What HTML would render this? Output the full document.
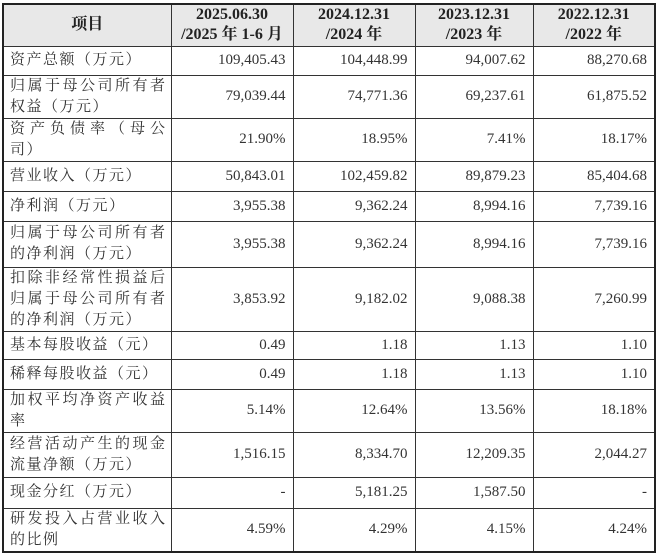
<!DOCTYPE html>
<html><head><meta charset="utf-8"><style>
body{margin:0;background:#fff;width:660px;height:560px;overflow:hidden}
table{position:absolute;left:2px;top:3px;border-collapse:collapse;border:2.5px solid #222;font-family:"Liberation Serif","Noto Serif CJK SC",serif;font-size:15px;color:#333;table-layout:fixed;width:654px}
td,th{border:1.5px solid #333;padding:0 7px;line-height:21px;overflow:hidden}
th{background:#e8e8e8;font-weight:bold;color:#222;text-align:center;font-size:16px;line-height:20px}
td{text-align:right}
td.l{text-align:justify;text-align-last:left;letter-spacing:1.5px;padding:0 4px 0 6px}
span.jl{display:block;text-align:justify;text-align-last:justify}
</style></head><body>
<table>
<colgroup><col style="width:168px"><col style="width:122px"><col style="width:122px"><col style="width:118px"><col style="width:122px"></colgroup>
<tr style="height:42px"><th>项目</th><th>2025.06.30<br>/2025 年 1-6 月</th><th>2024.12.31<br>/2024 年</th><th>2023.12.31<br>/2023 年</th><th>2022.12.31<br>/2022 年</th></tr>
<tr style="height:29px"><td class="l">资产总额（万元）</td><td>109,405.43</td><td>104,448.99</td><td>94,007.62</td><td>88,270.68</td></tr>
<tr style="height:43px"><td class="l">归属于母公司所有者权益（万元）</td><td>79,039.44</td><td>74,771.36</td><td>69,237.61</td><td>61,875.52</td></tr>
<tr style="height:41px"><td class="l"><span class="jl">资产负债率（母公</span>司）</td><td>21.90%</td><td>18.95%</td><td>7.41%</td><td>18.17%</td></tr>
<tr style="height:30px"><td class="l">营业收入（万元）</td><td>50,843.01</td><td>102,459.82</td><td>89,879.23</td><td>85,404.68</td></tr>
<tr style="height:30px"><td class="l">净利润（万元）</td><td>3,955.38</td><td>9,362.24</td><td>8,994.16</td><td>7,739.16</td></tr>
<tr style="height:46px"><td class="l">归属于母公司所有者的净利润（万元）</td><td>3,955.38</td><td>9,362.24</td><td>8,994.16</td><td>7,739.16</td></tr>
<tr style="height:62px"><td class="l">扣除非经常性损益后归属于母公司所有者的净利润（万元）</td><td>3,853.92</td><td>9,182.02</td><td>9,088.38</td><td>7,260.99</td></tr>
<tr style="height:28px"><td class="l">基本每股收益（元）</td><td>0.49</td><td>1.18</td><td>1.13</td><td>1.10</td></tr>
<tr style="height:30px"><td class="l">稀释每股收益（元）</td><td>0.49</td><td>1.18</td><td>1.13</td><td>1.10</td></tr>
<tr style="height:43px"><td class="l">加权平均净资产收益率</td><td>5.14%</td><td>12.64%</td><td>13.56%</td><td>18.18%</td></tr>
<tr style="height:45px"><td class="l">经营活动产生的现金流量净额（万元）</td><td>1,516.15</td><td>8,334.70</td><td>12,209.35</td><td>2,044.27</td></tr>
<tr style="height:31px"><td class="l">现金分红（万元）</td><td>-</td><td>5,181.25</td><td>1,587.50</td><td>-</td></tr>
<tr style="height:43px"><td class="l">研发投入占营业收入的比例</td><td>4.59%</td><td>4.29%</td><td>4.15%</td><td>4.24%</td></tr>
</table>
</body></html>
